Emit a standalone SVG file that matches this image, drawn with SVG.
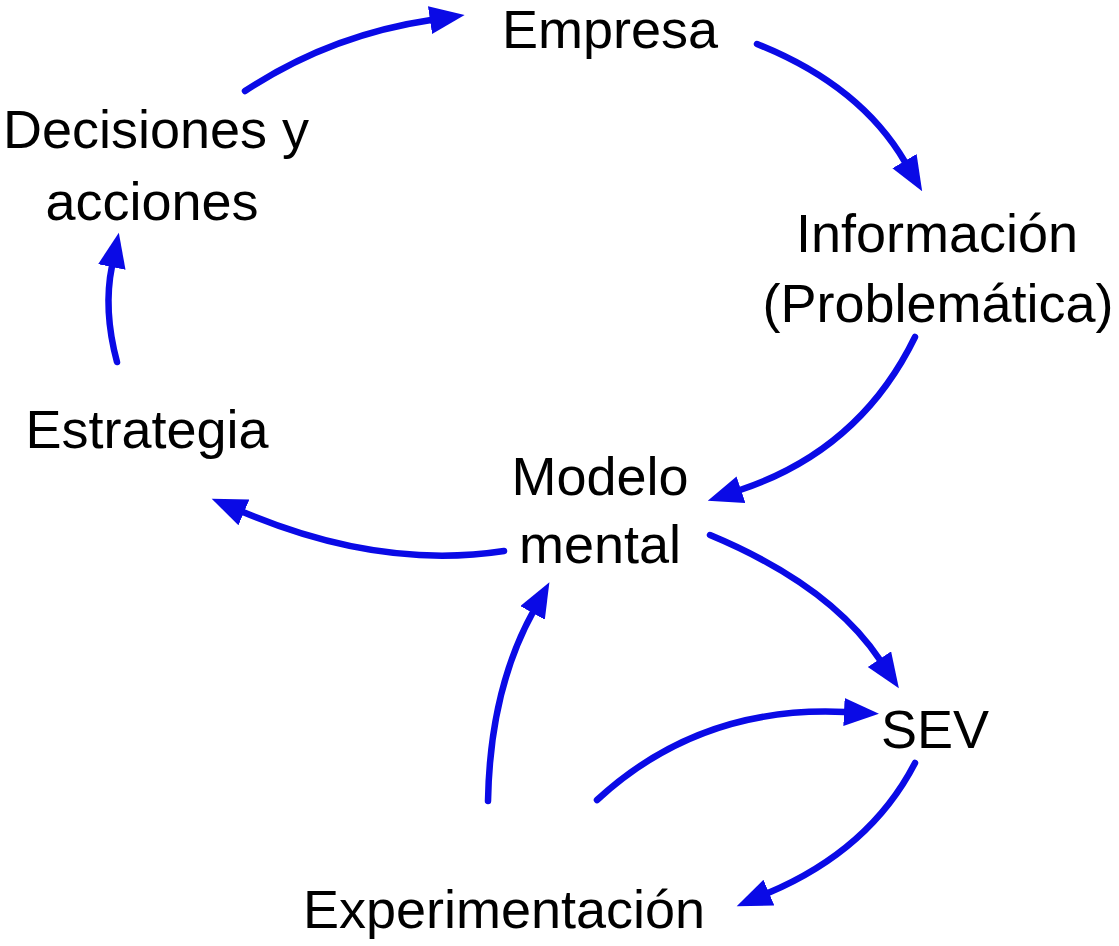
<svg xmlns="http://www.w3.org/2000/svg" width="1119" height="946" viewBox="0 0 1119 946">
<style>
.t{font-family:"Liberation Sans",Arial,sans-serif;font-size:54px;fill:#000;text-anchor:middle}
.c{fill:none;stroke:#0a0ae6;stroke-width:6.5;stroke-linecap:round}
</style>
<defs>
<marker id="ah" markerUnits="userSpaceOnUse" markerWidth="40" markerHeight="32" refX="1" refY="14" orient="auto">
<path d="M0,0 L35,14 L0,28 z" fill="#0a0ae6"/>
</marker>
</defs>
<rect width="1119" height="946" fill="#fff"/>
<g id="connectors">
<path class="c" d="M245,91 Q330,35 431,20" marker-end="url(#ah)"/>
<path class="c" d="M757,44 Q860,85 905,162" marker-end="url(#ah)"/>
<path class="c" d="M915,337 Q860,450 740,490" marker-end="url(#ah)"/>
<path class="c" d="M504,551 Q380,570 243,512" marker-end="url(#ah)"/>
<path class="c" d="M117,362 Q103,310 112,266" marker-end="url(#ah)"/>
<path class="c" d="M488,801 Q490,690 533,612" marker-end="url(#ah)"/>
<path class="c" d="M597,800 Q700,705 845,712" marker-end="url(#ah)"/>
<path class="c" d="M915,763 Q870,850 768,893" marker-end="url(#ah)"/>
<path class="c" d="M710,535 Q830,585 880,660" marker-end="url(#ah)"/>
</g>
<g id="empresa"><text class="t" x="610" y="48">Empresa</text></g>
<g id="decisiones"><text class="t" x="156" y="148">Decisiones y</text><text class="t" x="152" y="220">acciones</text></g>
<g id="informacion"><text class="t" x="937" y="252">Información</text><text class="t" x="938" y="322">(Problemática)</text></g>
<g id="estrategia"><text class="t" x="147" y="448">Estrategia</text></g>
<g id="modelo"><text class="t" x="600" y="495">Modelo</text><text class="t" x="600" y="563">mental</text></g>
<g id="sev"><text class="t" x="935" y="748">SEV</text></g>
<g id="experimentacion"><text class="t" x="504" y="928">Experimentación</text></g>
</svg>
